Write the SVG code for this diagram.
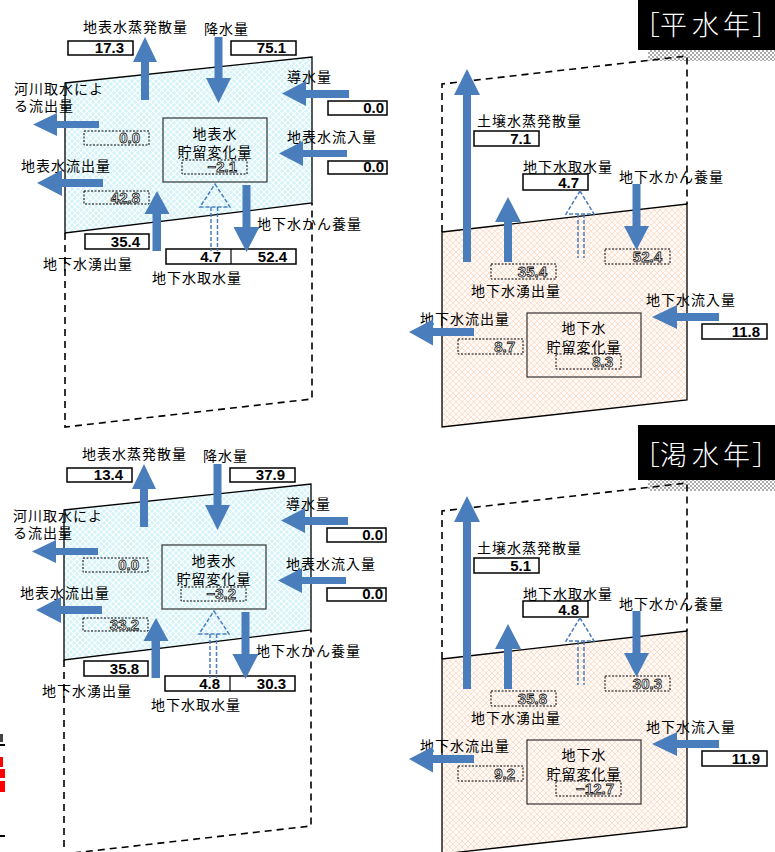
<svg xmlns="http://www.w3.org/2000/svg" width="775" height="852" viewBox="0 0 775 852">
<style>
.jp{font-family:"Noto Sans CJK JP","Noto Sans CJK SC",sans-serif;font-size:14px;letter-spacing:1px;fill:#000}
.jpm{font-family:"Noto Sans CJK JP","Noto Sans CJK SC",sans-serif;font-size:14px;letter-spacing:1px;fill:#000;text-anchor:middle}
.num{font-family:"Liberation Sans",Arial,sans-serif;font-weight:bold;font-size:15px;text-anchor:end;fill:#000}
.onum{font-family:"Liberation Sans",Arial,sans-serif;font-weight:bold;font-size:15px;text-anchor:end;fill:#fff;stroke:#111;stroke-width:0.8}
.vbox{fill:#fff;stroke:#000;stroke-width:1.5}
.dbox{fill:none;stroke:#000;stroke-width:1;stroke-dasharray:2 1.5}
.arrow{fill:#4a7dbb}
.darrow{fill:none;stroke:#4a7dbb;stroke-width:1.5;stroke-dasharray:4 2}
.sbox{fill:none;stroke:#333;stroke-width:1.2}
.dash{fill:none;stroke:#000;stroke-width:1.6;stroke-dasharray:7 5}
.solid{stroke:#000;stroke-width:1.3}
.title{font-family:"Noto Sans CJK JP","Noto Sans CJK SC",sans-serif;font-size:27px;font-weight:300;fill:#fff}
</style>
<defs>
<pattern id="cyanHatch" width="6" height="6" patternUnits="userSpaceOnUse">
<rect width="6" height="6" fill="#d3f3f9"/>
<path d="M0,0 L6,6 M6,0 L0,6" stroke="#fff" stroke-width="1.2"/>
</pattern>
<pattern id="peachHatch" width="6" height="6" patternUnits="userSpaceOnUse">
<rect width="6" height="6" fill="#fffaf6"/>
<path d="M0,0 L6,6 M6,0 L0,6" stroke="#fbdccb" stroke-width="0.9"/>
</pattern>
<pattern id="checker" width="4" height="4" patternUnits="userSpaceOnUse">
<rect width="4" height="4" fill="#fff"/>
<rect width="2" height="2" fill="#aaa"/>
<rect x="2" y="2" width="2" height="2" fill="#aaa"/>
</pattern>
</defs>

<!-- Top-left: surface water, normal year -->
<g id="surface-normal">
<polygon class="solid" points="65,83 312,57 312,203 65,233" fill="url(#cyanHatch)"/>
<path class="dash" d="M65,233 L65,427 L312,399 L312,203"/>
<g id="tl-storage"><rect class="sbox" x="163" y="118" width="104" height="64"/><text class="jpm" x="215" y="139">地表水</text><text class="jpm" x="215" y="157">貯留変化量</text><rect class="dbox" x="182" y="160" width="65" height="14"/><text class="onum" x="237" y="172">−2.1</text></g>
<g id="tl-evap"><text class="jp" x="83" y="32">地表水蒸発散量</text><rect class="vbox" x="68" y="41" width="65" height="14"/><text class="num" x="124" y="53">17.3</text></g>
<g id="tl-precip"><text class="jp" x="204" y="34">降水量</text><rect class="vbox" x="231" y="41" width="65" height="14"/><text class="num" x="286" y="53">75.1</text></g>
<g id="tl-conduit"><text class="jp" x="287" y="82">導水量</text><rect class="vbox" x="328" y="101" width="59" height="14"/><text class="num" x="384" y="113">0.0</text></g>
<g id="tl-inflow"><text class="jp" x="287" y="142">地表水流入量</text><rect class="vbox" x="328" y="161" width="59" height="13"/><text class="num" x="384" y="172">0.0</text></g>
<g id="tl-river"><text class="jp" x="14" y="94">河川取水によ</text><text class="jp" x="14" y="111">る流出量</text><rect class="dbox" x="84" y="131" width="65" height="14"/><text class="onum" x="140" y="143">0.0</text></g>
<g id="tl-outflow"><text class="jp" x="21" y="171">地表水流出量</text><rect class="dbox" x="84" y="191" width="65" height="13"/><text class="onum" x="140" y="203">42.8</text></g>
<g id="tl-spring"><text class="jp" x="43" y="269">地下水湧出量</text><rect class="vbox" x="85" y="234" width="64" height="15"/><text class="num" x="140" y="247">35.4</text></g>
<g id="tl-pair"><rect class="vbox" x="166" y="249" width="130" height="15"/><line x1="231" y1="249" x2="231" y2="264" stroke="#000" stroke-width="1.2"/><text class="num" x="221" y="262">4.7</text><text class="num" x="287" y="262">52.4</text><text class="jp" x="257" y="229">地下水かん養量</text><text class="jp" x="152" y="283">地下水取水量</text></g>
<g id="tl-connectors">
<polygon class="arrow" points="141,100 149,100 149,62 157,62 145,37 133,62 141,62"/>
<polygon class="arrow" points="214.5,37 222.5,37 222.5,78 231,78 218.5,103 206,78 214.5,78"/>
<polygon class="arrow" points="349,90 306,90 306,81 282,93.5 306,106 306,98 349,98"/>
<polygon class="arrow" points="347,150 303,150 303,141 279,153.5 303,166 303,157 347,157"/>
<polygon class="arrow" points="99,121 57,121 57,113 33,124.5 57,136 57,128 99,128"/>
<polygon class="arrow" points="103,179 62,179 62,170 37,183 62,196 62,187 103,187"/>
<polygon class="arrow" points="152.5,251 161,251 161,214 169.5,214 157,191 144.5,214 152.5,214"/>
<g class="darrow"><polygon points="215,184 230,207 200,207"/><line x1="211" y1="207" x2="211" y2="251"/><line x1="217.5" y1="207" x2="217.5" y2="251"/></g>
<polygon class="arrow" points="242.5,185 250.5,185 250.5,227 259.5,227 246.5,252 233.5,227 242.5,227"/>
</g>
</g>

<!-- Top-right: groundwater, normal year -->
<g id="ground-normal">
<g id="title-normal"><rect x="638" y="-5" width="137" height="55" fill="#000"/><rect x="648" y="50" width="127" height="11" fill="url(#checker)"/><text class="title" x="633 660 692 723 752" y="35">［平水年］</text></g>
<polygon class="solid" points="442,232 687,204 687,400 442,427" fill="url(#peachHatch)"/>
<path class="dash" d="M442,232 L442,84 L687,56 L687,204"/>
<g id="tr-storage"><rect class="sbox" x="527" y="313" width="114" height="64"/><text class="jpm" x="584" y="333">地下水</text><text class="jpm" x="584" y="352">貯留変化量</text><rect class="dbox" x="556" y="354" width="65" height="15"/><text class="onum" x="613" y="367">8.3</text></g>
<g id="tr-soil"><text class="jp" x="477" y="126">土壌水蒸発散量</text><rect class="vbox" x="474" y="131" width="65" height="15"/><text class="num" x="531" y="144">7.1</text></g>
<g id="tr-pump"><text class="jp" x="523" y="172">地下水取水量</text><rect class="vbox" x="523" y="174" width="65" height="16"/><text class="num" x="579" y="188">4.7</text></g>
<g id="tr-recharge"><text class="jp" x="619" y="182">地下水かん養量</text><rect class="dbox" x="605" y="249" width="65" height="15"/><text class="onum" x="662" y="262">52.4</text></g>
<g id="tr-spring"><rect class="dbox" x="491" y="264" width="65" height="15"/><text class="onum" x="547" y="277">35.4</text><text class="jp" x="471" y="296">地下水湧出量</text></g>
<g id="tr-inflow"><text class="jp" x="646" y="305">地下水流入量</text><rect class="vbox" x="702" y="324" width="65" height="15"/><text class="num" x="760" y="337">11.8</text></g>
<g id="tr-outflow"><text class="jp" x="420" y="324">地下水流出量</text><rect class="dbox" x="458" y="339" width="65" height="15"/><text class="onum" x="515" y="352">8.7</text></g>
<g id="tr-connectors">
<polygon class="arrow" points="463,262 471,262 471,95 480,95 467,69 454,95 463,95"/>
<polygon class="arrow" points="504,262 512,262 512,222 521,222 508,197 495,222 504,222"/>
<g class="darrow"><polygon points="580,191 594,214 566,214"/><line x1="578" y1="214" x2="578" y2="258"/><line x1="584" y1="214" x2="584" y2="258"/></g>
<polygon class="arrow" points="632.5,184 640.5,184 640.5,226 649,226 636.5,250 624,226 632.5,226"/>
<polygon class="arrow" points="719,313 677,313 677,305 652,317 677,329 677,321 719,321"/>
<polygon class="arrow" points="474,328 433,328 433,319.5 409,332 433,345.5 433,336 474,336"/>
</g>
</g>

<!-- Bottom-left: surface water, drought year -->
<g id="surface-drought" transform="translate(-1,427)">
<polygon class="solid" points="65,83 312,57 312,203 65,233" fill="url(#cyanHatch)"/>
<path class="dash" d="M65,233 L65,427 L312,399 L312,203"/>
<g id="bl-storage"><rect class="sbox" x="163" y="118" width="104" height="64"/><text class="jpm" x="215" y="139">地表水</text><text class="jpm" x="215" y="157">貯留変化量</text><rect class="dbox" x="182" y="160" width="65" height="14"/><text class="onum" x="237" y="172">−3.2</text></g>
<g id="bl-evap"><text class="jp" x="83" y="32">地表水蒸発散量</text><rect class="vbox" x="68" y="41" width="65" height="14"/><text class="num" x="124" y="53">13.4</text></g>
<g id="bl-precip"><text class="jp" x="204" y="34">降水量</text><rect class="vbox" x="231" y="41" width="65" height="14"/><text class="num" x="286" y="53">37.9</text></g>
<g id="bl-conduit"><text class="jp" x="287" y="82">導水量</text><rect class="vbox" x="328" y="101" width="59" height="14"/><text class="num" x="384" y="113">0.0</text></g>
<g id="bl-inflow"><text class="jp" x="287" y="142">地表水流入量</text><rect class="vbox" x="328" y="161" width="59" height="13"/><text class="num" x="384" y="172">0.0</text></g>
<g id="bl-river"><text class="jp" x="14" y="94">河川取水によ</text><text class="jp" x="14" y="111">る流出量</text><rect class="dbox" x="84" y="131" width="65" height="14"/><text class="onum" x="140" y="143">0.0</text></g>
<g id="bl-outflow"><text class="jp" x="21" y="171">地表水流出量</text><rect class="dbox" x="84" y="191" width="65" height="13"/><text class="onum" x="140" y="203">33.2</text></g>
<g id="bl-spring"><text class="jp" x="43" y="269">地下水湧出量</text><rect class="vbox" x="85" y="234" width="64" height="15"/><text class="num" x="140" y="247">35.8</text></g>
<g id="bl-pair"><rect class="vbox" x="166" y="249" width="130" height="15"/><line x1="231" y1="249" x2="231" y2="264" stroke="#000" stroke-width="1.2"/><text class="num" x="221" y="262">4.8</text><text class="num" x="287" y="262">30.3</text><text class="jp" x="257" y="229">地下水かん養量</text><text class="jp" x="152" y="283">地下水取水量</text></g>
<g id="bl-connectors">
<polygon class="arrow" points="141,100 149,100 149,62 157,62 145,37 133,62 141,62"/>
<polygon class="arrow" points="214.5,37 222.5,37 222.5,78 231,78 218.5,103 206,78 214.5,78"/>
<polygon class="arrow" points="349,90 306,90 306,81 282,93.5 306,106 306,98 349,98"/>
<polygon class="arrow" points="347,150 303,150 303,141 279,153.5 303,166 303,157 347,157"/>
<polygon class="arrow" points="99,121 57,121 57,113 33,124.5 57,136 57,128 99,128"/>
<polygon class="arrow" points="103,179 62,179 62,170 37,183 62,196 62,187 103,187"/>
<polygon class="arrow" points="152.5,251 161,251 161,214 169.5,214 157,191 144.5,214 152.5,214"/>
<g class="darrow"><polygon points="215,184 230,207 200,207"/><line x1="211" y1="207" x2="211" y2="251"/><line x1="217.5" y1="207" x2="217.5" y2="251"/></g>
<polygon class="arrow" points="242.5,185 250.5,185 250.5,227 259.5,227 246.5,252 233.5,227 242.5,227"/>
</g>
</g>

<!-- Bottom-right: groundwater, drought year -->
<g id="ground-drought" transform="translate(0,427)">
<g id="title-drought"><rect x="638" y="-2" width="137" height="55" fill="#000"/><rect x="648" y="53" width="127" height="11" fill="url(#checker)"/><text class="title" x="633 660 692 723 752" y="38">［渇水年］</text></g>
<polygon class="solid" points="442,232 687,204 687,400 442,427" fill="url(#peachHatch)"/>
<path class="dash" d="M442,232 L442,84 L687,56 L687,204"/>
<g id="br-storage"><rect class="sbox" x="527" y="313" width="114" height="64"/><text class="jpm" x="584" y="333">地下水</text><text class="jpm" x="584" y="352">貯留変化量</text><rect class="dbox" x="556" y="354" width="65" height="15"/><text class="onum" x="614" y="367">−12.7</text></g>
<g id="br-soil"><text class="jp" x="477" y="126">土壌水蒸発散量</text><rect class="vbox" x="474" y="131" width="65" height="15"/><text class="num" x="531" y="144">5.1</text></g>
<g id="br-pump"><text class="jp" x="523" y="172">地下水取水量</text><rect class="vbox" x="523" y="174" width="65" height="16"/><text class="num" x="579" y="188">4.8</text></g>
<g id="br-recharge"><text class="jp" x="619" y="182">地下水かん養量</text><rect class="dbox" x="605" y="249" width="65" height="15"/><text class="onum" x="662" y="262">30.3</text></g>
<g id="br-spring"><rect class="dbox" x="491" y="264" width="65" height="15"/><text class="onum" x="547" y="277">35.8</text><text class="jp" x="471" y="296">地下水湧出量</text></g>
<g id="br-inflow"><text class="jp" x="646" y="305">地下水流入量</text><rect class="vbox" x="702" y="324" width="65" height="15"/><text class="num" x="760" y="337">11.9</text></g>
<g id="br-outflow"><text class="jp" x="420" y="324">地下水流出量</text><rect class="dbox" x="458" y="339" width="65" height="15"/><text class="onum" x="515" y="352">9.2</text></g>
<g id="br-connectors">
<polygon class="arrow" points="463,262 471,262 471,95 480,95 467,69 454,95 463,95"/>
<polygon class="arrow" points="504,262 512,262 512,222 521,222 508,197 495,222 504,222"/>
<g class="darrow"><polygon points="580,191 594,214 566,214"/><line x1="578" y1="214" x2="578" y2="258"/><line x1="584" y1="214" x2="584" y2="258"/></g>
<polygon class="arrow" points="632.5,184 640.5,184 640.5,226 649,226 636.5,250 624,226 632.5,226"/>
<polygon class="arrow" points="719,313 677,313 677,305 652,317 677,329 677,321 719,321"/>
<polygon class="arrow" points="474,328 433,328 433,319.5 409,332 433,345.5 433,336 474,336"/>
</g>
</g>

<!-- Clipped fragments at left edge -->
<g id="edge-fragments">
<rect x="0" y="734" width="3" height="8" fill="#444"/>
<rect x="0" y="744" width="5" height="2" fill="#000"/>
<rect x="0" y="757" width="3" height="10" fill="#f00"/>
<rect x="0" y="769" width="5" height="9" fill="#f00"/>
<rect x="0" y="781" width="5" height="11" fill="#f00"/>
<rect x="0" y="835" width="5" height="2" fill="#000"/>
</g>
</svg>
